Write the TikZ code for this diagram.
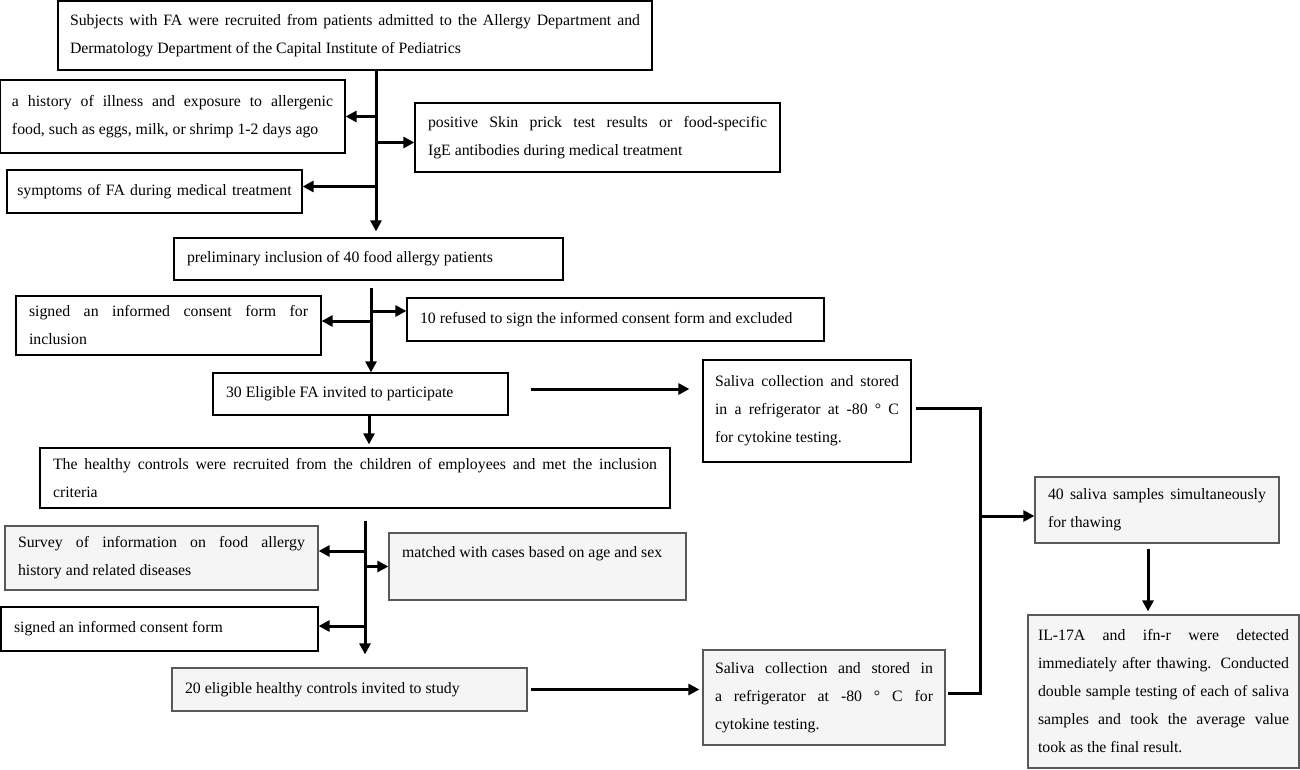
\documentclass[tikz,border=0pt]{standalone}
\usepackage{fontspec}
\setmainfont{Liberation Serif}
\usetikzlibrary{arrows.meta, positioning, calc}

\begin{document}
\begin{tikzpicture}[x=1pt, y=-1pt, font=\fontsize{15.8}{28}\selectfont,
  box/.style={draw, line width=1.2pt, inner xsep=13pt, inner ysep=4pt, align=justify},
  greybox/.style={box, draw=black!65, fill=black!4},
  arr/.style={line width=3pt, -{Triangle[length=11pt,width=11pt]}},
  ln/.style={line width=3pt}]
\useasboundingbox (0,0) rectangle (1300,770);

% patients
\node[box, text width=570pt, inner xsep=12pt, minimum height=69pt] (top) at (355,35.5)
  {Subjects with FA were recruited from patients admitted to the Allergy Department and\linebreak
   Dermatology Department of the Capital Institute of Pediatrics};
\node[box, text width=321pt, inner xsep=12pt, minimum height=73pt] (hist) at (172.5,116.5)
  {a history of illness and exposure to allergenic\linebreak food, such as eggs, milk, or shrimp 1-2 days ago};
\node[box, text width=339pt, minimum height=69pt] (pos) at (597.5,137.5)
  {positive Skin prick test results or food-specific\linebreak IgE antibodies during medical treatment};
\node[box, text width=283pt, inner xsep=6pt, minimum height=43pt, align=center] (symp) at (154.5,191.5)
  {symptoms of FA during medical treatment};
\node[box, text width=363pt, minimum height=42pt] (prelim) at (368.5,259)
  {preliminary inclusion of 40 food allergy patients};
\node[box, text width=279pt, minimum height=59pt] (signincl) at (168.5,325.5)
  {signed an informed consent form for\linebreak inclusion};
\node[box, text width=391pt, minimum height=43pt] (refused) at (615.5,319.5)
  {10 refused to sign the informed consent form and excluded};
\node[box, text width=269pt, minimum height=42pt] (elig) at (360.5,394)
  {30 Eligible FA invited to participate};

% controls
\node[box, text width=604pt, minimum height=60pt] (healthy) at (355,478)
  {The healthy controls were recruited from the children of employees and met the inclusion\linebreak criteria};
\node[greybox, text width=287pt, minimum height=64pt] (survey) at (161.5,558)
  {Survey of information on food allergy\linebreak history and related diseases};
\node[greybox, text width=271pt, minimum height=67pt] (match) at (537.5,566.5)
  {matched with cases based on age and sex\\\mbox{}};
\node[box, text width=291pt, minimum height=44pt] (signform) at (159.5,629)
  {signed an informed consent form};
\node[greybox, text width=329pt, minimum height=43pt] (twenty) at (349.5,689.5)
  {20 eligible healthy controls invited to study};

% saliva
\node[box, text width=184pt, inner xsep=12pt, minimum height=102pt] (sal1) at (807,411)
  {Saliva collection and stored\linebreak in a refrigerator at -80 ° C\linebreak for cytokine testing.};
\node[greybox, text width=218pt, inner xsep=12pt, minimum height=95pt] (sal2) at (824,697.5)
  {Saliva collection and stored in\linebreak a refrigerator at -80 ° C for\linebreak cytokine testing.};
\node[greybox, text width=218pt, minimum height=66pt] (forty) at (1157,510)
  {40 saliva samples simultaneously\linebreak for thawing};
\node[greybox, text width=251pt, inner xsep=10pt, minimum height=153pt] (final) at (1163.5,691.5)
  {IL-17A and ifn-r were detected\linebreak immediately after thawing. Conducted\linebreak
   double sample testing of each of saliva\linebreak samples and took the average value\linebreak
   took as the final result.};

% first trunk
\coordinate (a0) at ([xshift=21pt]top.south);
\draw[arr] (a0) -- ([yshift=6pt]a0 |- prelim.north);
\draw[arr] (a0 |- hist.east) -- (hist.east);
\draw[arr] ([yshift=-5pt]a0 |- pos.west) -- ([yshift=-5pt]pos.west);
\draw[arr] ([yshift=5pt]a0 |- symp.east) -- ([yshift=5pt]symp.east);

% second trunk
\coordinate (b0) at ([xshift=2.5pt,yshift=-7pt]prelim.south);
\draw[arr] (b0) -- (b0 |- elig.north);
\draw[arr] ([yshift=4.5pt]b0 |- signincl.east) -- ([yshift=4.5pt]signincl.east);
\draw[arr] ([xshift=2pt,yshift=8.5pt]b0 |- refused.west) -- ([yshift=8.5pt]refused.west);
\draw[arr, shorten >=3pt] ([xshift=8.5pt]elig.south) -- ([xshift=8.5pt]elig.south |- healthy.north);
\draw[arr, shorten <=22pt, shorten >=13pt] ([yshift=5pt]elig.east) -- ([yshift=5pt]elig.east -| sal1.west);

% third trunk
\coordinate (c0) at ([xshift=10pt,yshift=-12pt]healthy.south);
\draw[arr] (c0) -- ([yshift=13pt]c0 |- twenty.north);
\draw[arr] ([yshift=7pt]c0 |- survey.east) -- ([yshift=7pt]survey.east);
\draw[arr] ([xshift=2pt]c0 |- match.west) -- (match.west);
\draw[arr] ([yshift=3pt]c0 |- signform.east) -- ([yshift=3pt]signform.east);
\draw[arr, shorten <=3pt, shorten >=3pt] (twenty.east) -- (twenty.east -| sal2.west);

% merge
\draw[ln] ([xshift=4pt,yshift=3pt]sal1.east) -| ([xshift=35pt,yshift=4pt]sal2.east) -- ([xshift=2pt,yshift=4pt]sal2.east);
\draw[arr] ([xshift=-52pt,yshift=-6pt]forty.west) -- ([yshift=-6pt]forty.west);
\coordinate (e0) at ([xshift=-9pt,yshift=-5pt]forty.south);
\draw[arr] (e0) -- ([yshift=3pt]e0 |- final.north);
\end{tikzpicture}
\end{document}
